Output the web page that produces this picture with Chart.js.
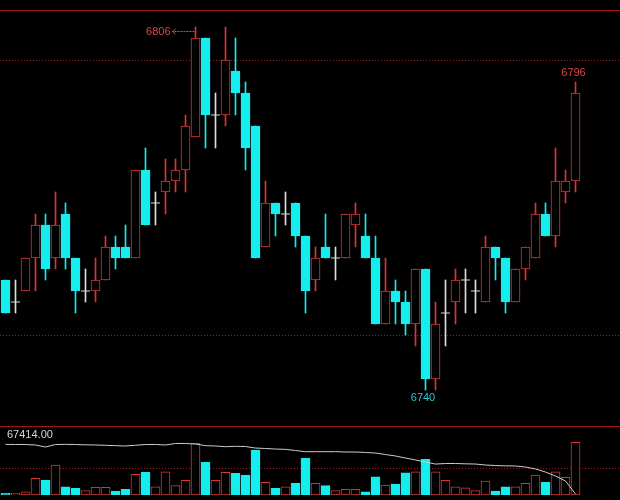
<!DOCTYPE html>
<html>
<head>
<meta charset="utf-8">
<script src="https://cdn.jsdelivr.net/npm/chart.js@4.4.1/dist/chart.umd.min.js"></script>
<style>
html,body{margin:0;padding:0;background:#000;width:620px;height:500px;overflow:hidden}
#p{position:absolute;left:0;top:10px;width:620px;height:417px}
#v{position:absolute;left:0;top:427px;width:620px;height:73px}
</style>
</head>
<body>
<div id="p"><canvas id="pc"></canvas></div>
<div id="v"><canvas id="vc"></canvas></div>
<script>
// ---- data ----
const categories = Array.from({length: 58}, (_, i) => i + 1);
const opens  = [6760,6756,6758,6764,6770,6764,6772,6764,6758,6758,6760,6766,6766,6764,6780,6774,6776,6778,6780,6786,6804,6790,6790,6798,6794,6788,6766,6774,6772,6774,6768,6760,6766,6764,6764,6770,6768,6764,6752,6758,6756,6752,6762,6742,6754,6756,6760,6758,6756,6766,6764,6756,6762,6764,6772,6768,6776,6778];
const highs  = [6760,6760,6764,6772,6772,6776,6774,6764,6762,6764,6768,6768,6770,6780,6784,6776,6782,6782,6790,6806,6804,6794,6806,6804,6796,6788,6778,6774,6776,6774,6768,6766,6772,6766,6772,6774,6772,6768,6764,6760,6758,6762,6762,6756,6760,6762,6762,6760,6768,6766,6764,6762,6766,6774,6774,6784,6780,6796];
const lows   = [6754,6754,6758,6758,6760,6762,6762,6754,6756,6756,6760,6762,6764,6764,6770,6770,6772,6776,6776,6786,6784,6784,6788,6790,6780,6764,6766,6768,6770,6766,6754,6758,6764,6760,6764,6766,6764,6752,6752,6752,6750,6748,6740,6740,6748,6752,6754,6754,6756,6760,6754,6756,6760,6764,6768,6766,6774,6776];
const closes = [6754,6756,6764,6770,6762,6770,6764,6758,6758,6760,6766,6764,6764,6780,6770,6774,6778,6780,6788,6804,6790,6790,6800,6794,6784,6764,6774,6772,6772,6768,6758,6764,6764,6764,6772,6772,6764,6752,6758,6756,6752,6762,6742,6752,6754,6760,6760,6758,6766,6764,6756,6762,6766,6772,6768,6778,6778,6794];
const volumes = [2200,2200,4200,21400,19200,38400,10600,8600,5500,9800,9800,5100,7300,26500,29000,10600,29800,11900,18800,66100,41800,18800,29000,27800,25600,57600,16200,8600,10600,15000,46900,15000,11900,5500,7300,7300,4200,23400,12800,14100,28500,29800,45700,29800,18800,10600,9300,5500,17900,5100,10600,10600,15000,25600,16200,29800,22600,67414];
const holdLine = [64800,64600,64600,64000,61400,64600,64800,64600,64200,64000,63600,63100,62700,63600,64600,64600,64000,65900,65900,65200,63100,62700,61800,62300,62000,60100,59500,58800,58400,56900,55400,55400,55400,55400,55000,55000,54400,53700,51800,49900,47300,44800,42200,39600,40300,40300,39900,39600,38400,37700,37300,37100,35800,33300,29400,24300,17900,1300];
const priceGridTicks = [6750, 6800];
const volumeGridTicks = [35000];
const slotCount = 62;
const priceMin = 6733.27, priceMax = 6809.09;
const volumeMax = 87000;

// ---- style ----
const RED = '#dc3434', CYAN = '#14eeee', WHITE = '#dcdcdc';
const FRAME = '#a01818', GRID = '#a01c1c';
const RED_TXT = '#e04444', CYAN_TXT = '#2cc8cc', LABEL = '#d6d6d6';
const FONT = '11px "Liberation Sans", Arial, sans-serif';

const idx = categories.map((_, i) => i);
const dir = i => closes[i] > opens[i] ? 1 : (closes[i] < opens[i] ? -1 : 0);
const bodyIdx = idx.filter(i => dir(i) !== 0);
const dojiIdx = idx.filter(i => dir(i) === 0);

const xScale = {type: 'linear', min: -0.55, max: slotCount - 0.55, offset: false, display: false};

function hLines(ctx, area, scale, values) {
  ctx.save();
  ctx.strokeStyle = GRID; ctx.lineWidth = 1; ctx.setLineDash([1, 2]);
  values.forEach(v => {
    const py = Math.round(scale.getPixelForValue(v)) + 0.5;
    ctx.beginPath(); ctx.moveTo(area.left, py); ctx.lineTo(area.right, py); ctx.stroke();
  });
  ctx.restore();
}

const priceDeco = {
  id: 'priceDeco',
  beforeDatasetsDraw(chart) {
    const {ctx, chartArea: a, scales: {y}} = chart;
    hLines(ctx, a, y, priceGridTicks);
    ctx.save();
    ctx.strokeStyle = FRAME; ctx.lineWidth = 1;
    ctx.beginPath();
    ctx.moveTo(a.left, a.top + 0.5); ctx.lineTo(a.right, a.top + 0.5);
    ctx.moveTo(a.left, a.bottom - 0.5); ctx.lineTo(a.right, a.bottom - 0.5);
    ctx.stroke();
    ctx.restore();
  },
  afterDatasetsDraw(chart) {
    const {ctx, scales: {x, y}} = chart;
    ctx.save();
    ctx.font = FONT; ctx.textBaseline = 'middle';
    // highest high
    const hMax = Math.max(...highs), iMax = highs.indexOf(hMax);
    const xm = x.getPixelForValue(iMax), ym = y.getPixelForValue(hMax);
    const ay = Math.round(ym + 4) + 0.5;
    ctx.strokeStyle = RED_TXT; ctx.lineWidth = 1;
    ctx.setLineDash([2, 1]);
    ctx.beginPath(); ctx.moveTo(xm - 1, ay); ctx.lineTo(xm - 23, ay); ctx.stroke();
    ctx.setLineDash([]);
    ctx.beginPath(); ctx.moveTo(xm - 20, ay - 2.5); ctx.lineTo(xm - 23, ay); ctx.lineTo(xm - 20, ay + 2.5); ctx.stroke();
    ctx.fillStyle = RED_TXT; ctx.textAlign = 'right';
    ctx.fillText(String(hMax), xm - 25, ay);
    // last bar high
    const iLast = highs.length - 1;
    ctx.textAlign = 'center';
    ctx.fillText(String(highs[iLast]), x.getPixelForValue(iLast) - 2, y.getPixelForValue(highs[iLast]) - 9);
    // lowest low
    const lMin = Math.min(...lows), iMin = lows.indexOf(lMin);
    ctx.fillStyle = CYAN_TXT;
    ctx.fillText(String(lMin), x.getPixelForValue(iMin) - 2.5, y.getPixelForValue(lMin) + 8);
    ctx.restore();
  }
};

new Chart(document.getElementById('pc'), {
  type: 'bar',
  data: {
    datasets: [
      {
        type: 'bar', order: 0, grouped: false,
        data: bodyIdx.map(i => ({x: i, y: [opens[i], closes[i]]})),
        backgroundColor: bodyIdx.map(i => dir(i) > 0 ? '#000' : CYAN),
        borderColor: bodyIdx.map(i => dir(i) > 0 ? RED : CYAN),
        borderWidth: 1, borderSkipped: false, barThickness: 9
      },
      {
        type: 'scatter', order: 1,
        data: dojiIdx.map(i => ({x: i, y: closes[i]})),
        pointStyle: 'line', pointRadius: 4.5, borderColor: WHITE, borderWidth: 1, showLine: false
      },
      {
        type: 'bar', order: 2, grouped: false,
        data: idx.map(i => ({x: i, y: [lows[i], highs[i]]})),
        backgroundColor: idx.map(i => dir(i) > 0 ? RED : (dir(i) < 0 ? CYAN : WHITE)),
        borderWidth: 0, barThickness: 1
      }
    ]
  },
  options: {
    responsive: true, maintainAspectRatio: false, animation: false, devicePixelRatio: 1,
    layout: {padding: 0, autoPadding: false},
    plugins: {legend: {display: false}, tooltip: {enabled: false}},
    scales: {
      x: xScale,
      y: {min: priceMin, max: priceMax, display: false}
    }
  },
  plugins: [priceDeco]
});

const volDeco = {
  id: 'volDeco',
  beforeDatasetsDraw(chart) {
    const {ctx, chartArea: a, scales: {y}} = chart;
    hLines(ctx, a, y, volumeGridTicks);
    ctx.save();
    ctx.font = FONT; ctx.fillStyle = LABEL; ctx.textBaseline = 'middle'; ctx.textAlign = 'left';
    ctx.fillText(Math.max(...volumes).toFixed(2), 7, 8);
    ctx.restore();
  }
};

new Chart(document.getElementById('vc'), {
  type: 'bar',
  data: {
    datasets: [
      {
        type: 'line', order: 0,
        data: idx.map(i => ({x: i, y: holdLine[i]})),
        borderColor: '#cccccc', borderWidth: 1, pointRadius: 0, tension: 0, fill: false
      },
      {
        type: 'bar', order: 1, grouped: false,
        data: idx.map(i => ({x: i, y: volumes[i]})),
        backgroundColor: idx.map(i => dir(i) < 0 ? CYAN : '#000'),
        borderColor: idx.map(i => dir(i) < 0 ? CYAN : RED),
        borderWidth: 1, borderSkipped: false, barThickness: 9
      }
    ]
  },
  options: {
    responsive: true, maintainAspectRatio: false, animation: false, devicePixelRatio: 1,
    layout: {padding: {left: 0, right: 0, top: 0, bottom: 5}, autoPadding: false},
    plugins: {legend: {display: false}, tooltip: {enabled: false}},
    scales: {
      x: xScale,
      y: {min: 0, max: volumeMax, display: false}
    }
  },
  plugins: [volDeco]
});
</script>
</body>
</html>
